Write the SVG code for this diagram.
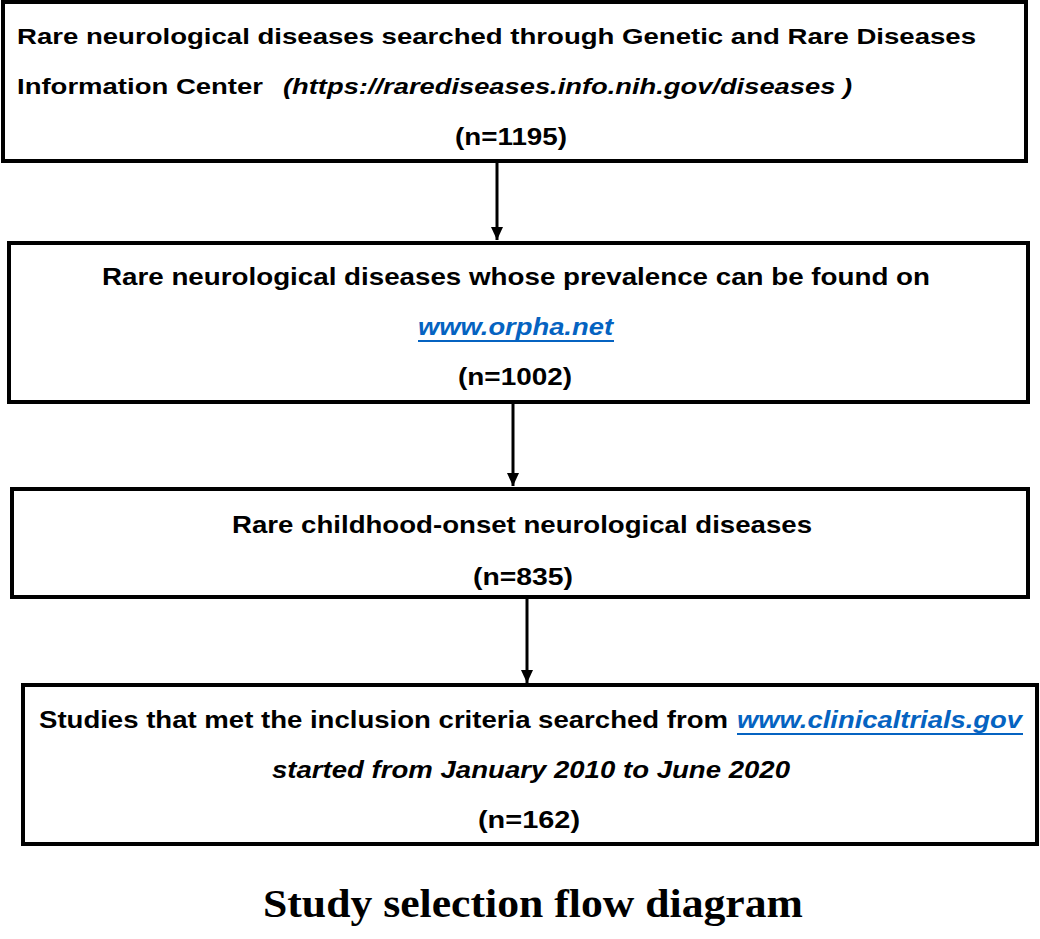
<svg xmlns="http://www.w3.org/2000/svg" width="1040" height="939" viewBox="0 0 1040 939">
<defs>
<style>
.box{fill:#fff;stroke:#000;stroke-width:4}
.t{font-family:"Liberation Sans",Arial,sans-serif;font-weight:bold;fill:#000;text-anchor:start}
.i{font-style:italic}
.lnk{fill:#0563C1;font-style:italic}
.ul{stroke:#0563C1;stroke-width:2}
.con{stroke:#000;stroke-width:3;fill:none}
.title{font-family:"Liberation Serif","Times New Roman",serif;font-weight:bold;font-size:40px;fill:#000}
</style>
<marker id="ah" markerWidth="13" markerHeight="12" refX="13" refY="6" orient="auto" markerUnits="userSpaceOnUse">
<path d="M0,0 L13,6 L0,12 Z" fill="#000"/>
</marker>
</defs>
<rect width="1040" height="939" fill="#fff"/>
<g id="connectors">
<line class="con" x1="497" y1="162" x2="497" y2="240" marker-end="url(#ah)"/>
<line class="con" x1="513" y1="403" x2="513" y2="486" marker-end="url(#ah)"/>
<line class="con" x1="527" y1="598" x2="527" y2="683" marker-end="url(#ah)"/>
</g>
<g id="node1">
<rect class="box" x="3" y="2" width="1023" height="159"/>
<text class="t" x="17" y="44" font-size="22" textLength="959" lengthAdjust="spacingAndGlyphs">Rare neurological diseases searched through Genetic and Rare Diseases</text>
<text class="t" x="17" y="94" font-size="22" textLength="246" lengthAdjust="spacingAndGlyphs">Information Center</text>
<text class="t i" x="283" y="94" font-size="22" textLength="569" lengthAdjust="spacingAndGlyphs">(https://rarediseases.info.nih.gov/diseases )</text>
<text class="t" x="455" y="145" font-size="23" textLength="112" lengthAdjust="spacingAndGlyphs">(n=1195)</text>
</g>
<g id="node2">
<rect class="box" x="9" y="243" width="1019" height="159"/>
<text class="t" x="102" y="285" font-size="24" textLength="828" lengthAdjust="spacingAndGlyphs">Rare neurological diseases whose prevalence  can be found on</text>
<text class="t lnk" x="418" y="335" font-size="24" textLength="195" lengthAdjust="spacingAndGlyphs">www.orpha.net</text>
<line class="ul" x1="418" y1="341" x2="614" y2="341"/>
<text class="t" x="458" y="385" font-size="24" textLength="114" lengthAdjust="spacingAndGlyphs">(n=1002)</text>
</g>
<g id="node3">
<rect class="box" x="12" y="489" width="1016" height="108"/>
<text class="t" x="232" y="533" font-size="24" textLength="580" lengthAdjust="spacingAndGlyphs">Rare childhood-onset neurological diseases</text>
<text class="t" x="473" y="585" font-size="24" textLength="100" lengthAdjust="spacingAndGlyphs">(n=835)</text>
</g>
<g id="node4">
<rect class="box" x="23" y="685" width="1014" height="159"/>
<text class="t" x="39" y="728" font-size="24" textLength="689" lengthAdjust="spacingAndGlyphs">Studies that met the inclusion criteria searched from</text>
<text class="t lnk" x="737" y="728" font-size="24" textLength="285" lengthAdjust="spacingAndGlyphs">www.clinicaltrials.gov</text>
<line class="ul" x1="737" y1="734" x2="1023" y2="734"/>
<text class="t i" x="272" y="778" font-size="24" textLength="518" lengthAdjust="spacingAndGlyphs">started from January 2010 to June 2020</text>
<text class="t" x="478" y="828" font-size="24" textLength="102" lengthAdjust="spacingAndGlyphs">(n=162)</text>
</g>
<text class="title" x="263" y="917" textLength="540" lengthAdjust="spacingAndGlyphs">Study selection flow diagram</text>
</svg>
